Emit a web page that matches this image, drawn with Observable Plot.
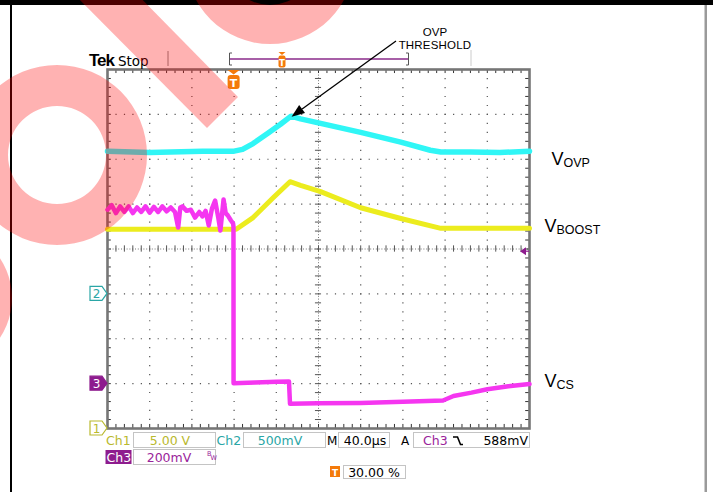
<!DOCTYPE html>
<html><head><meta charset="utf-8">
<script src="https://cdn.jsdelivr.net/npm/d3@7"></script>
<script src="https://cdn.jsdelivr.net/npm/@observablehq/plot@0.6"></script>
<style>
html,body{margin:0;padding:0;background:#fff;}
#chart{width:713px;height:492px;overflow:hidden;}
svg{display:block}
</style></head><body><div id="chart"></div>
<script>
// ---- data (time in µs relative to trigger; 40 µs/div, trigger at 30 %) ----
const ovpTime  = [-120,-80,-30,0,8,18,32,44,54,63,82,120,158,186,196,224,252,280];
const ovpVolts = [1.59,1.575,1.59,1.59,1.61,1.675,1.79,1.89,1.98,1.95,1.90,1.80,1.69,1.60,1.58,1.58,1.575,1.59];

const boostTime  = [-120,-60,0,2,18,37,53,63,82,120,158,196,224,280];
const boostVolts = [22.2,22.2,22.2,22.2,23.5,25.7,27.5,27.1,26.4,24.6,23.4,22.3,22.3,22.3];

const csTime = [-120,-116,-112,-108,-104,-100,-96,-92,-88,-84,-80,-76,-72,-68,-64,-60,-56,-53,-51,-49,
  -45,-41,-37,-33,-30,-27,-24,-21,-18,-15,-13,-10,-8,-6,-3,-1,-0.6,-0.5,20,40,
  52,53,80,120,160,198,208,225,240,260,280];
const csMilliVolts = [775,795,760,790,765,790,760,785,765,790,762,788,765,790,768,785,765,696,785,790,
  770,775,740,765,745,770,705,780,816,740,682,821,760,750,727,714,700,2,5,8,
  10,-90,-88,-86,-81,-75,-55,-40,-25,-12,-2];

// channel settings: units per division and ground position (divisions from bottom)
const ch1Scale = 5,   ch1Ground = 0;   // V/div   (VBOOST)
const ch2Scale = 0.5, ch2Ground = 3;   // V/div   (VOVP)
const ch3Scale = 200, ch3Ground = 1;   // mV/div  (VCS)
const triggerLevel = 588;              // mV on Ch3
const timePerDiv = 40, tStart = -120, tEnd = 280;

const ovp   = ovpTime.map((t,i)=>({t, div: ch2Ground + ovpVolts[i]/ch2Scale}));
const boost = boostTime.map((t,i)=>({t, div: ch1Ground + boostVolts[i]/ch1Scale}));
const cs    = csTime.map((t,i)=>({t, div: ch3Ground + csMilliVolts[i]/ch3Scale}));

// graticule
const majorX = d3.range(tStart + timePerDiv, tEnd, timePerDiv);
const majorY = d3.range(1, 8, 1);
const minorX = d3.range(tStart, tEnd + 0.01, timePerDiv/5);
const minorY = d3.range(0, 8.001, 0.2);
const centerT = tStart + 5*timePerDiv;

const gridCol = "#555";
const plot = Plot.plot({
  width: 713, height: 492,
  marginLeft: 107, marginRight: 184, marginTop: 69, marginBottom: 64,
  x: {domain: [tStart, tEnd], axis: null},
  y: {domain: [0, 8], axis: null},
  style: {background: "transparent", overflow: "visible"},
  marks: [
    Plot.ruleX(majorX.filter(d => d !== centerT), {stroke: gridCol, strokeWidth: 1.2, strokeDasharray: "1.2,7.77"}),
    Plot.ruleY(majorY.filter(d => d !== 4), {stroke: gridCol, strokeWidth: 1.2, strokeDasharray: "1.2,7.24"}),
    Plot.ruleX([centerT], {stroke: "#777", strokeWidth: 1, strokeDasharray: "1,1.8"}),
    Plot.ruleY([4], {stroke: "#777", strokeWidth: 1, strokeDasharray: "1,1.8"}),
    Plot.ruleX(minorX, {y1: 3.93, y2: 4.07, stroke: gridCol, strokeWidth: 1}),
    Plot.ruleY(minorY, {x1: centerT - 2.9, x2: centerT + 2.9, stroke: gridCol, strokeWidth: 1}),
    Plot.ruleX(minorX, {y1: 8, y2: 7.91, stroke: "#333", strokeWidth: 1}),
    Plot.ruleX(minorX, {y1: 0, y2: 0.09, stroke: "#333", strokeWidth: 1}),
    Plot.ruleY(minorY, {x1: tStart, x2: tStart + 3.6, stroke: "#333", strokeWidth: 1}),
    Plot.ruleY(minorY, {x1: tEnd, x2: tEnd - 3.6, stroke: "#333", strokeWidth: 1}),
    Plot.frame({stroke: "#767676", strokeWidth: 2.6}),
    Plot.line(boost, {x: "t", y: "div", stroke: "#ecec1e", strokeWidth: 5}),
    Plot.line(ovp,   {x: "t", y: "div", stroke: "#30f6f6", strokeWidth: 5.5}),
    Plot.line(cs,    {x: "t", y: "div", stroke: "#f536f0", strokeWidth: 4.5})
  ]
});
document.getElementById("chart").appendChild(plot);

const svg = d3.select(plot);
const sx = plot.scale("x"), sy = plot.scale("y");
const X = v => sx.apply(v), Y = v => sy.apply(v);
svg.insert("rect", ":first-child").attr("x",0).attr("y",0).attr("width",713).attr("height",492).attr("fill","#fff");

const scopeFont = "DejaVu Sans";
const g = svg.append("g").attr("text-anchor", "start");
function txt(x, y, s, o = {}) {
  const t = g.append("text").attr("x", x).attr("y", y).text(s)
    .attr("font-family", o.font || scopeFont).attr("font-size", o.size || 12.5)
    .attr("fill", o.fill || "#000").attr("text-anchor", o.anchor || "start");
  if (o.weight) t.attr("font-weight", o.weight);
  if (o.ls) t.attr("letter-spacing", o.ls);
  return t;
}

// page frame
g.append("rect").attr("x",0).attr("y",0).attr("width",713).attr("height",5).attr("fill","#000");
g.append("rect").attr("x",10).attr("y",5).attr("width",2).attr("height",487).attr("fill","#000");
g.append("rect").attr("x",704.5).attr("y",5).attr("width",2.5).attr("height",487).attr("fill","#9a9a9a");

// header
txt(89, 66, "Tek", {font: "Liberation Sans", size: 17, weight: "bold", ls: -1});
txt(118, 66, "Stop", {size: 13.5});
g.append("line").attr("x1",168).attr("x2",168).attr("y1",51).attr("y2",66).attr("stroke","#888").attr("stroke-width",1);
g.append("line").attr("x1",471).attr("x2",471).attr("y1",50).attr("y2",66).attr("stroke","#ccc").attr("stroke-width",1);
g.append("path").attr("d","M232,53 H229.5 V65 H232 M406,53 H408.5 V65 H406").attr("fill","none").attr("stroke","#555").attr("stroke-width",1);
g.append("line").attr("x1",230).attr("x2",408).attr("y1",59).attr("y2",59).attr("stroke","#8a2a8a").attr("stroke-width",1.3);
const orange = "#f47a0a";
// small trigger position marker in record bar
g.append("path").attr("d","M278.5,52 h7 l-3.5,3 z").attr("fill",orange);
g.append("rect").attr("x",278.5).attr("y",55.5).attr("width",7).attr("height",12).attr("rx",2).attr("fill",orange);
txt(282, 65.5, "T", {size: 8.5, fill: "#fff", anchor: "middle", weight: "bold"});
// trigger marker on graticule
const tx = X(0);
g.append("path").attr("d",`M${tx-6},70 h12 l-6,4.5 z`).attr("fill",orange);
g.append("rect").attr("x",tx-6).attr("y",75).attr("width",12).attr("height",14).attr("rx",3).attr("fill",orange);
txt(tx, 87, "T", {size: 11, fill: "#fff", anchor: "middle", weight: "bold"});

// channel ground markers
const olive = "#b9b92e", teal = "#2aa6a6", purple = "#8e1c8e";
function chanMarker(cy, label, col, filled) {
  const x0 = 90, x1 = 102, x2 = 107;
  g.append("path").attr("d",`M${x0},${cy-7} H${x1} L${x2},${cy} L${x1},${cy+7} H${x0} Z`)
    .attr("fill", filled ? col : "#fff").attr("stroke", col).attr("stroke-width", 1.2);
  txt(x0+6.5, cy+5, label, {size: 12, fill: filled ? "#fff" : col, anchor: "middle"});
}
chanMarker(Y(ch2Ground), "2", teal, false);
chanMarker(Y(ch3Ground), "3", purple, true);
chanMarker(Y(ch1Ground), "1", olive, false);
// trigger level marker
const ty = Y(ch3Ground + triggerLevel/ch3Scale);
g.append("path").attr("d",`M${X(tEnd)-9},${ty} l6,-4 v8 z`).attr("fill",purple);
g.append("line").attr("x1",X(tEnd)-4).attr("x2",X(tEnd)).attr("y1",ty).attr("y2",ty).attr("stroke",purple).attr("stroke-width",1.2);

// annotation
const ann = "Liberation Sans";
txt(435, 36, "OVP", {font: ann, size: 11.5, anchor: "middle"});
txt(435, 49, "THRESHOLD", {font: ann, size: 11.5, anchor: "middle", ls: 0.2});
const ax0 = 396, ay0 = 41, ax1 = X(54) + 1, ay1 = Y(ch2Ground + 1.98/ch2Scale) + 1;
const ang = Math.atan2(ay1 - ay0, ax1 - ax0);
const hl = 13, hw = 5;
const bx = ax1 - hl*Math.cos(ang), by = ay1 - hl*Math.sin(ang);
g.append("line").attr("x1",ax0).attr("y1",ay0).attr("x2",bx).attr("y2",by).attr("stroke","#000").attr("stroke-width",1.3);
g.append("path").attr("d",`M${ax1},${ay1} L${bx + hw*Math.sin(ang)},${by - hw*Math.cos(ang)} L${bx - hw*Math.sin(ang)},${by + hw*Math.cos(ang)} Z`).attr("fill","#000");

// right-side labels
function vlabel(x, y, sub) {
  const t = g.append("text").attr("x", x).attr("y", y).attr("font-family", ann).attr("fill","#000").attr("text-anchor","start");
  t.append("tspan").attr("font-size", 18).text("V");
  t.append("tspan").attr("font-size", 12.5).attr("dy", 1.5).text(sub);
}
vlabel(551.5, 165, "OVP");
vlabel(544.5, 232, "BOOST");
vlabel(544.5, 387, "CS");

// readout boxes
function box(x, y, w, h) {
  g.append("rect").attr("x",x).attr("y",y).attr("width",w).attr("height",h).attr("fill","none").attr("stroke","#c4c4c4").attr("stroke-width",1);
}
box(133.5, 432.5, 82, 15);
box(243.5, 432.5, 82, 15);
box(338.5, 432.5, 51, 15);
box(413.5, 432.5, 116, 15);
box(133.5, 449.5, 82, 15);
box(343.5, 465.5, 62, 13);
txt(106, 445, "Ch1", {fill: olive});
txt(170, 445, "5.00 V", {fill: olive, anchor: "middle"});
txt(216.5, 445, "Ch2", {fill: teal});
txt(280, 445, "500mV", {fill: teal, anchor: "middle"});
txt(327, 445, "M", {size: 12});
txt(365, 445, "40.0µs", {anchor: "middle"});
txt(401, 445, "A", {size: 12});
txt(423, 445, "Ch3", {fill: "#9a249a"});
g.append("path").attr("d","M453,437 H457.5 L460.5,444.5 H463").attr("fill","none").attr("stroke","#000").attr("stroke-width",1.6);
txt(528, 445, "588mV", {anchor: "end"});
g.append("rect").attr("x",105.5).attr("y",450).attr("width",26).attr("height",14).attr("fill",purple);
txt(106.5, 462, "Ch3", {fill: "#fff"});
txt(169, 462, "200mV", {fill: "#9a249a", anchor: "middle"});
txt(207, 456, "B", {fill: "#9a249a", size: 6.5});
txt(210.5, 460, "W", {fill: "#9a249a", size: 6.5});
g.append("rect").attr("x",330).attr("y",466).attr("width",10).attr("height",11).attr("fill",orange);
txt(335, 475.5, "T", {size: 9, fill: "#fff", anchor: "middle", weight: "bold"});
txt(374, 476.5, "30.00 %", {anchor: "middle"});

// watermark (semi-transparent red) on top
function ring(cx, cy, R, r) {
  return `M${cx-R},${cy} a${R},${R} 0 1,0 ${2*R},0 a${R},${R} 0 1,0 ${-2*R},0 Z ` +
         `M${cx-r},${cy} a${r},${r} 0 1,0 ${2*r},0 a${r},${r} 0 1,0 ${-2*r},0 Z`;
}
const wm = svg.append("g").attr("fill","#ff0000").attr("fill-opacity",0.3).attr("fill-rule","evenodd");
wm.append("path").attr("d","M60,-20 L123,-20 L238,97 L207,128 Z");
wm.append("path").attr("d", ring(270, -40, 84, 45));
wm.append("path").attr("d", ring(57, 155, 90, 49));
wm.append("circle").attr("cx",-60).attr("cy",298).attr("r",72);
</script></body></html>
